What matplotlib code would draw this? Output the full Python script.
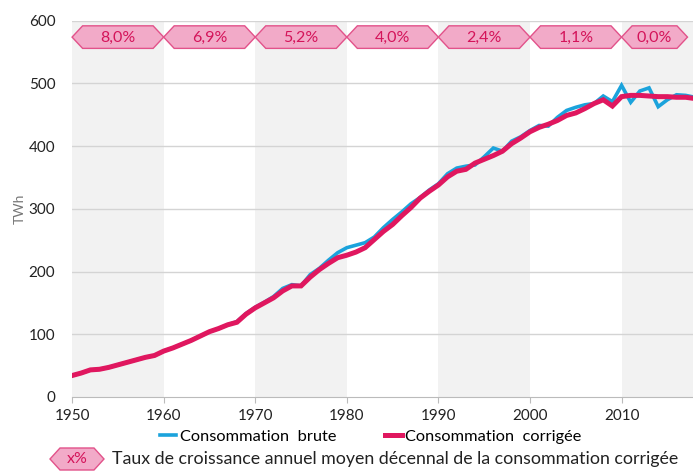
import matplotlib.pyplot as plt
from matplotlib.patches import Polygon
from matplotlib.lines import Line2D

plt.rcParams['font.family'] = ['Lato', 'DejaVu Sans']

years = list(range(1950, 2019))

# consommation corrigee (TWh)
corrigee = [34, 38, 43, 44, 47, 51, 55, 59, 63, 66,
            73, 78, 84, 90, 97, 104, 109, 115, 119, 132,
            142, 150, 158, 169, 177, 177, 191, 203, 213, 222,
            226, 231, 238, 251, 264, 275, 289, 302, 317, 328,
            338, 351, 360, 363, 373, 379, 385, 392, 404, 413,
            423, 430, 435, 441, 449, 453, 460, 468, 474, 464,
            479, 481, 481, 480, 479, 479, 478, 478, 476]

# consommation brute (TWh)
brute = [34, 38, 43, 44, 47, 51, 55, 59, 63, 66,
         73, 78, 84, 90, 97, 104, 109, 115, 120, 133,
         143, 151, 160, 173, 179, 177, 195, 205, 218, 230,
         238, 242, 246, 255, 270, 283, 295, 308, 318, 330,
         340, 356, 365, 368, 370, 383, 397, 392, 408, 415,
         425, 433, 432, 446, 457, 462, 466, 468, 480, 471,
         497, 470, 488, 493, 463, 474, 482, 481, 478]

decades = [1950, 1960, 1970, 1980, 1990, 2000, 2010]
taux = ['8,0%', '6,9%', '5,2%', '4,0%', '2,4%', '1,1%', '0,0%']

blue = '#1ba3dc'
red = '#e0175f'
pink_fill = '#f2aac8'
pink_edge = '#e2528a'
pink_text = '#d4145a'

fig = plt.figure(figsize=(6.93, 4.73), dpi=100)
ax = fig.add_axes([0.104, 0.161, 0.896, 0.795])

xmax = 2017.8
ax.set_xlim(1950, xmax)
ax.set_ylim(0, 600)

# alternate grey decades
for d in [1950, 1970, 1990, 2010]:
    ax.axvspan(d, min(d + 10, xmax), color='#f2f2f2', zorder=0, lw=0)

for v in range(100, 601, 100):
    ax.axhline(v, color='#d4d4d4', lw=1, zorder=1)

ax.plot(years, brute, color=blue, lw=2.6, zorder=3, solid_joinstyle='miter')
ax.plot(years, corrigee, color=red, lw=3.6, zorder=4, solid_joinstyle='miter')

# hexagon labels for decennial growth rates
yc, hh, tip = 574, 18, 1.15
for i, d in enumerate(decades):
    x0 = d
    x1 = d + 10 if d < 2010 else 2017.2
    pts = [(x0, yc), (x0 + tip, yc + hh), (x1 - tip, yc + hh),
           (x1, yc), (x1 - tip, yc - hh), (x0 + tip, yc - hh)]
    ax.add_patch(Polygon(pts, closed=True, facecolor=pink_fill,
                         edgecolor=pink_edge, lw=1, zorder=5, clip_on=False))
    ax.text((x0 + x1) / 2, yc - 2, taux[i], ha='center', va='center',
            fontsize=11.5, color=pink_text, zorder=6)

for s in ['top', 'right', 'left']:
    ax.spines[s].set_visible(False)
ax.spines['bottom'].set_color('#bbbbbb')
ax.spines['bottom'].set_zorder(2)

ax.set_xticks(decades)
ax.set_yticks(range(0, 601, 100))
ax.tick_params(axis='x', colors='#bbbbbb', labelcolor='#222222',
               labelsize=11, length=4, pad=5)
ax.tick_params(axis='y', length=0, labelcolor='#222222', labelsize=11, pad=12)
ax.set_ylabel('TWh', color='#777777', fontsize=10, labelpad=2)

handles = [Line2D([], [], color=blue, lw=2.6),
           Line2D([], [], color=red, lw=3.6)]
fig.legend(handles, ['Consommation  brute', 'Consommation  corrigée'],
           loc='center', bbox_to_anchor=(0.535, 0.077), ncol=2, frameon=False,
           fontsize=11.8, handlelength=1.0, handletextpad=0.2,
           columnspacing=3.0)

# key for hexagon
kx0, kx1, ky, kh, kt = 50 / 693, 104 / 693, 1 - 459 / 473, 11 / 473, 10 / 693
key = [(kx0, ky), (kx0 + kt, ky + kh), (kx1 - kt, ky + kh), (kx1, ky),
       (kx1 - kt, ky - kh), (kx0 + kt, ky - kh)]
fig.patches.append(Polygon(key, closed=True, transform=fig.transFigure,
                           facecolor=pink_fill, edgecolor=pink_edge, lw=1))
fig.text((kx0 + kx1) / 2, ky, 'x%', ha='center', va='center',
         fontsize=11.5, color=pink_text)
fig.text(112 / 693, ky, 'Taux de croissance annuel moyen décennal de la consommation corrigée',
         ha='left', va='center', fontsize=12.8, color='#222222')

fig.savefig('out.png', dpi=100)
